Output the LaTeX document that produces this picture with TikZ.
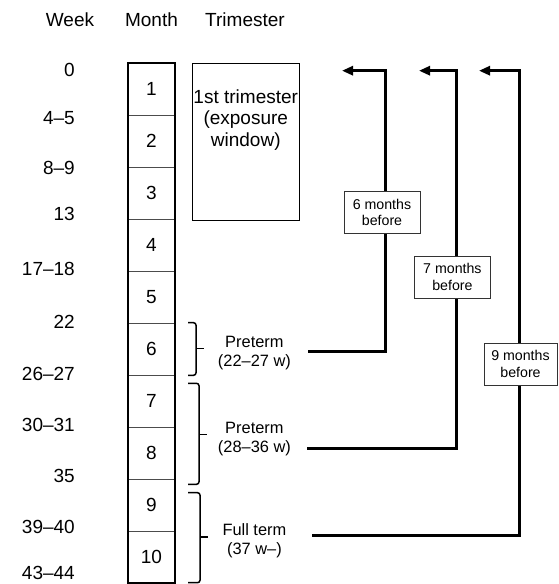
\documentclass[tikz,border=0pt]{standalone}
\usepackage{fontspec}
\setmainfont{Liberation Sans}
\usetikzlibrary{arrows.meta, positioning}

\tikzset{
  head/.style={font=\fontsize{19}{22}\selectfont},
  weeklabel/.style={anchor=east, inner sep=0pt, font=\fontsize{19}{22}\selectfont},
  monthcell/.style={draw=black!70, line width=0.8pt, minimum width=47pt, minimum height=52pt, inner sep=0pt, font=\fontsize{19}{22}\selectfont},
  tribox/.style={draw, line width=0.8pt, minimum width=107pt, minimum height=157pt, inner sep=0pt},
  termlabel/.style={align=center, font=\fontsize{16.4}{19}\selectfont},
  lagbox/.style={draw=black!80, fill=white, line width=0.8pt, align=center, minimum width=76pt, minimum height=42pt, inner sep=1pt, font=\fontsize{14.2}{16.7}\selectfont},
  lagline/.style={line width=3pt, -{Triangle[length=11pt,width=9pt]}},
  bracket/.style={line width=1.5pt, rounded corners=2.5pt}
}

\begin{document}
\begin{tikzpicture}[x=1pt,y=-1pt]
\useasboundingbox (0,0) rectangle (558,584);

% Column heads
\node[head] (hweek) at (70,20) {Week};
\node[head] (hmonth) at (151.5,20) {Month};
\node[head] (htri) at (245,20) {Trimester};

% Weeks
\foreach \w/\y [count=\i] in {0/70, 4--5/118, 8--9/168, 13/214, 17--18/269, 22/322,
    26--27/374, 30--31/425, 35/476, 39--40/527, 43--44/572.5}
  \node[weeklabel] (w\i) at (75,\y) {\w};

% Months
\foreach \m in {1,...,10}
  \node[monthcell] (m\m) at (151.5,37+52*\m) {\m};
\draw[line width=2pt] (m1.north west) rectangle (m10.south east);

% Trimester
\node[tribox] (tri) at (245.75,141.5) {};
\node[align=center, font=\fontsize{19}{21.7}\selectfont] (tritext) at (245.75,120) {1st trimester\\(exposure\\window)};

% Birth groups
\node[termlabel] (pre1) at (254.4,352.8) {Preterm\\(22--27 w)};
\node[termlabel] (pre2) at (254.4,438.7) {Preterm\\(28--36 w)};
\node[termlabel] (full) at (254.4,541) {Full term\\(37 w--)};

\foreach \ya/\yb/\ym/\xb in {322.7/375.3/348.5/196, 383.3/484.3/434.3/199, 492.7/582.7/537/200} {
  \draw[bracket] (188,\ya) -- (\xb,\ya) -- (\xb,\yb) -- (188,\yb);
  \draw[line width=1.5pt] (\xb,\ym) -- (\xb+8,\ym);
}

% Lag lines
\coordinate (from6) at (308,351);
\coordinate (turn6) at (385,70.7);
\coordinate (to6) at (342,70.7);
\coordinate (from7) at (307,448.7);
\coordinate (turn7) at (456,70.7);
\coordinate (to7) at (419,70.7);
\coordinate (from9) at (312,535.3);
\coordinate (turn9) at (519.6,70.7);
\coordinate (to9) at (479,70.7);
\draw[lagline] (from6) -| (turn6) -- (to6);
\draw[lagline] (from7) -| (turn7) -- (to7);
\draw[lagline] (from9) -| (turn9) -- (to9);

\node[lagbox] (lag6) at (382,212.5) {6 months\\before};
\node[lagbox] (lag7) at (452.4,277) {7 months\\before};
\node[lagbox, minimum width=73pt] (lag9) at (520.5,364) {9 months\\before};
\end{tikzpicture}
\end{document}
